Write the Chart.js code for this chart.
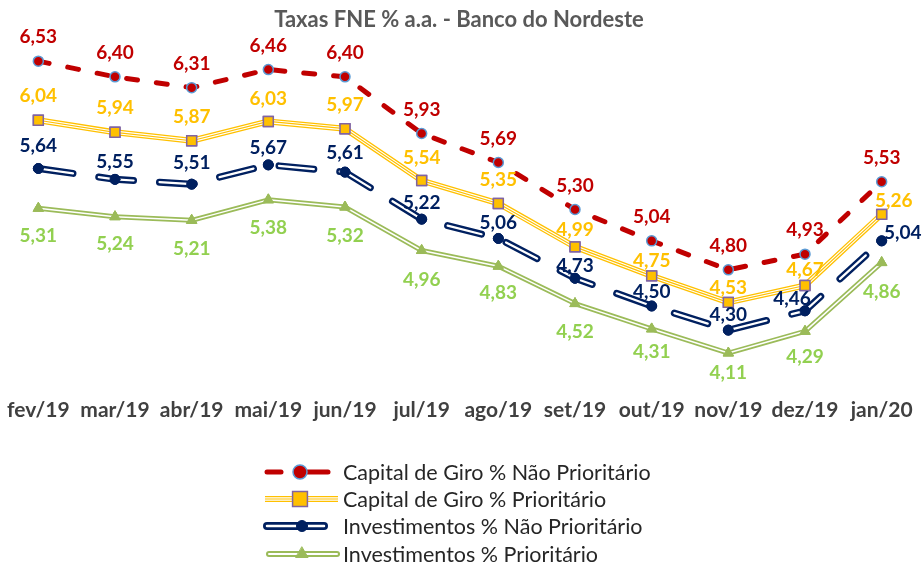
<!DOCTYPE html>
<html><head><meta charset="utf-8">
<script src="https://cdn.jsdelivr.net/npm/chart.js@4.4.1/dist/chart.umd.min.js"></script>
<style>
html,body{margin:0;padding:0;background:#fff;}
#wrap{position:relative;width:924px;height:567px;overflow:hidden;}
#c{position:absolute;left:0;top:0;}
#legend{position:absolute;left:262px;top:458px;font-family:Lato,"Open Sans",sans-serif;font-size:21.5px;color:#262626;}
.row{display:flex;align-items:center;height:27.3px;white-space:nowrap;}
.row canvas{width:80px;height:26px;margin-right:1px;flex:none;}
</style></head><body>
<div id="wrap"><canvas id="c" width="924" height="567"></canvas><div id="legend"></div></div>
<script>
const categories = ["fev/19","mar/19","abr/19","mai/19","jun/19","jul/19","ago/19","set/19","out/19","nov/19","dez/19","jan/20"];
const capitalGiroNaoPrioritario = [6.53,6.40,6.31,6.46,6.40,5.93,5.69,5.30,5.04,4.80,4.93,5.53];
const capitalGiroPrioritario    = [6.04,5.94,5.87,6.03,5.97,5.54,5.35,4.99,4.75,4.53,4.67,5.26];
const investNaoPrioritario      = [5.64,5.55,5.51,5.67,5.61,5.22,5.06,4.73,4.50,4.30,4.46,5.04];
const investPrioritario         = [5.31,5.24,5.21,5.38,5.32,4.96,4.83,4.52,4.31,4.11,4.29,4.86];
const seriesNames = ["Capital de Giro % Não Prioritário","Capital de Giro % Prioritário","Investimentos % Não Prioritário","Investimentos % Prioritário"];

const fmt = v => v.toFixed(2).replace('.', ',');

const stripePlugin = {
  id: 'stripes',
  afterDatasetDraw(chart, args) {
    const ds = chart.data.datasets[args.index];
    if (!ds.stripes) return;
    const pts = args.meta.data;
    const ctx = chart.ctx;
    ctx.save();
    ds.stripes.forEach(s => {
      ctx.beginPath();
      pts.forEach((p, i) => i ? ctx.lineTo(p.x, p.y) : ctx.moveTo(p.x, p.y));
      ctx.lineWidth = s.width;
      ctx.strokeStyle = s.color;
      ctx.setLineDash(ds.borderDash || []);
      ctx.lineCap = ds.borderCapStyle || 'butt';
      ctx.lineJoin = 'round';
      ctx.stroke();
    });
    ctx.setLineDash([]);
    pts.forEach(p => p.draw(ctx, chart.chartArea));
    ctx.restore();
  }
};

const labelPlugin = {
  id: 'valueLabels',
  afterDatasetsDraw(chart) {
    const ctx = chart.ctx;
    ctx.save();
    ctx.font = 'bold 19px Lato, "Open Sans", sans-serif';
    ctx.textAlign = 'center';
    ctx.textBaseline = 'middle';
    chart.data.datasets.forEach((ds, di) => {
      const meta = chart.getDatasetMeta(di);
      ctx.fillStyle = ds.labelColor;
      meta.data.forEach((p, i) => {
        const off = ds.labelOffsets[i];
        ctx.fillText(fmt(ds.data[i]), p.x + off[0], p.y + off[1]);
      });
    });
    ctx.restore();
  }
};

const RED = '#C00000', GOLD = '#FFC000', NAVY = '#002060', GREEN = '#9BBB59';

const datasets = [
  {
    label: seriesNames[0], data: capitalGiroNaoPrioritario,
    borderColor: RED, borderWidth: 5, borderDash: [11, 19], borderCapStyle: 'round',
    pointStyle: 'circle', pointRadius: 5, pointBackgroundColor: RED,
    pointBorderColor: '#5B9BD5', pointBorderWidth: 1.5,
    labelColor: RED,
    labelOffsets: Array(12).fill([0, -24])
  },
  {
    label: seriesNames[1], data: capitalGiroPrioritario,
    borderColor: GOLD, borderWidth: 6,
    stripes: [{width: 3.4, color: '#ffffff'}, {width: 1.2, color: GOLD}],
    pointStyle: 'rect', pointRadius: 7, pointBackgroundColor: GOLD,
    pointBorderColor: '#8064A2', pointBorderWidth: 1.5,
    labelColor: GOLD,
    labelOffsets: [[0,-24],[0,-24],[0,-24],[0,-23],[0,-24],[0,-23],[0,-24],[0,-17],[0,-15],[0,-15],[0,-16],[12,-13]]
  },
  {
    label: seriesNames[2], data: investNaoPrioritario,
    borderColor: NAVY, borderWidth: 7, borderDash: [35, 26], borderCapStyle: 'round',
    stripes: [{width: 2.2, color: '#ffffff'}],
    pointStyle: 'circle', pointRadius: 5, pointBackgroundColor: NAVY,
    pointBorderColor: NAVY, pointBorderWidth: 1,
    labelColor: NAVY,
    labelOffsets: [[0,-23],[0,-17],[0,-21],[0,-17],[0,-19],[0,-16],[0,-16],[0,-12],[0,-14],[0,-15],[-13,-12],[21,-8]]
  },
  {
    label: seriesNames[3], data: investPrioritario,
    borderColor: GREEN, borderWidth: 5,
    stripes: [{width: 1.5, color: '#ffffff'}],
    pointStyle: 'triangle', pointRadius: 6, pointBackgroundColor: GREEN,
    pointBorderColor: GREEN, pointBorderWidth: 1,
    labelColor: '#92D050',
    labelOffsets: [[0,28],[0,27],[0,29],[0,28],[0,29],[0,29],[0,27],[0,28],[0,23],[0,20],[0,26],[0,29]]
  }
];

const chart = new Chart(document.getElementById('c'), {
  type: 'line',
  data: { labels: categories, datasets: datasets },
  options: {
    responsive: false,
    animation: false,
    devicePixelRatio: 1,
    clip: false,
    elements: { line: { tension: 0, borderJoinStyle: 'round' } },
    layout: { autoPadding: false, padding: { left: -2, right: 4, top: 0, bottom: 137.6 } },
    plugins: {
      legend: { display: false },
      tooltip: { enabled: false },
      title: {
        display: true,
        text: 'Taxas FNE % a.a. - Banco do Nordeste',
        color: '#595959',
        font: { family: 'Lato, "Open Sans", sans-serif', size: 22, weight: 'bold' },
        padding: { top: 7, bottom: 0 }
      }
    },
    scales: {
      x: {
        offset: true,
        grid: { display: false, drawTicks: false },
        border: { display: false },
        afterFit: s => { s.paddingLeft = -2; s.paddingRight = 0; },
        ticks: { color: '#404040', padding: 7, maxRotation: 0, autoSkip: false,
                 font: { family: 'Lato, "Open Sans", sans-serif', size: 21, weight: 'bold' } }
      },
      y: { display: false, min: 3.802, max: 6.760 }
    }
  },
  plugins: [stripePlugin, labelPlugin]
});

// HTML legend
function drawSymbol(cv, ds, idx) {
  cv.width = 80; cv.height = 26;
  const ctx = cv.getContext('2d');
  const y = 13;
  const line = (x1, x2, w, c, cap) => {
    ctx.beginPath(); ctx.moveTo(x1, y); ctx.lineTo(x2, y);
    ctx.lineWidth = w; ctx.strokeStyle = c; ctx.lineCap = cap || 'butt'; ctx.stroke();
  };
  const pt = (x, r) => Chart.helpers.drawPoint(ctx, {
    pointStyle: ds.pointStyle, radius: r, borderWidth: ds.pointBorderWidth, rotation: 0
  }, x, y);
  if (idx === 0) {
    line(5, 19, 5, ds.borderColor, 'round');
    line(45, 66, 5, ds.borderColor, 'round');
    ctx.fillStyle = ds.pointBackgroundColor; ctx.strokeStyle = ds.pointBorderColor; ctx.lineWidth = 1.5;
    pt(38, 7);
  } else if (idx === 1) {
    line(3, 76, 6, ds.borderColor);
    line(3, 76, 3.4, '#ffffff');
    line(3, 76, 1.2, ds.borderColor);
    ctx.fillStyle = ds.pointBackgroundColor; ctx.strokeStyle = ds.pointBorderColor; ctx.lineWidth = 1.5;
    pt(38, 10.5);
  } else if (idx === 2) {
    line(5, 62, 8, ds.borderColor, 'round');
    line(5, 62, 2.5, '#ffffff', 'round');
    ctx.fillStyle = ds.pointBackgroundColor; ctx.strokeStyle = ds.pointBorderColor; ctx.lineWidth = 1;
    pt(40, 5.5);
  } else {
    line(7, 75, 6, ds.borderColor, 'round');
    line(7, 75, 2, '#ffffff', 'round');
    ctx.fillStyle = ds.pointBackgroundColor; ctx.strokeStyle = ds.pointBorderColor; ctx.lineWidth = 1;
    pt(40, 7);
  }
}
const legendEl = document.getElementById('legend');
chart.data.datasets.forEach((ds, i) => {
  const row = document.createElement('div'); row.className = 'row';
  const cv = document.createElement('canvas'); drawSymbol(cv, ds, i);
  const sp = document.createElement('span'); sp.textContent = ds.label;
  row.appendChild(cv); row.appendChild(sp); legendEl.appendChild(row);
});
</script>
</body></html>
